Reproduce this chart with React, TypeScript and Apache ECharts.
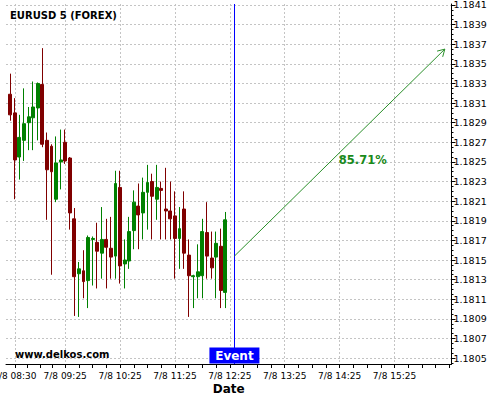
import React, { useEffect, useRef } from "react";
import * as echarts from "echarts";

// ---------- data ----------
const DATE_PREFIX = "7/8";
const times = [
  "08:25", "08:30", "08:35", "08:40", "08:45", "08:50", "08:55", "09:00", "09:05", "09:10",
  "09:15", "09:20", "09:25", "09:30", "09:35", "09:40", "09:45", "09:50", "09:55", "10:00",
  "10:05", "10:10", "10:15", "10:20", "10:25", "10:30", "10:35", "10:40", "10:45", "10:50",
  "10:55", "11:00", "11:05", "11:10", "11:15", "11:20", "11:25", "11:30", "11:35", "11:40",
  "11:45", "11:50", "11:55", "12:00", "12:05", "12:10", "12:15", "12:20",
];
const opens = [
  1.18319, 1.18300, 1.18255, 1.18272, 1.18290, 1.18295, 1.18305, 1.18329, 1.18272, 1.18266,
  1.18212, 1.18250, 1.18270, 1.18254, 1.18192, 1.18136, 1.18139, 1.18129, 1.18171, 1.18168,
  1.18157, 1.18171, 1.18162, 1.18154, 1.18224, 1.18146, 1.18149, 1.18180, 1.18205, 1.18198,
  1.18219, 1.18230, 1.18212, 1.18223, 1.18202, 1.18200, 1.18195, 1.18172, 1.18202, 1.18155,
  1.18133, 1.18133, 1.18134, 1.18178, 1.18152, 1.18153, 1.18164, 1.18117,
];
const closes = [
  1.18298, 1.18252, 1.18275, 1.18289, 1.18296, 1.18306, 1.18330, 1.18268, 1.18242, 1.18240,
  1.18249, 1.18252, 1.18251, 1.18198, 1.18133, 1.18141, 1.18128, 1.18173, 1.18172, 1.18159,
  1.18171, 1.18163, 1.18153, 1.18228, 1.18144, 1.18150, 1.18179, 1.18209, 1.18196, 1.18219,
  1.18229, 1.18215, 1.18224, 1.18221, 1.18200, 1.18192, 1.18172, 1.18182, 1.18157, 1.18134,
  1.18134, 1.18138, 1.18179, 1.18154, 1.18142, 1.18167, 1.18119, 1.18191,
];
const lows = [
  1.18292, 1.18212, 1.18232, 1.18251, 1.18262, 1.18262, 1.18272, 1.18265, 1.18191, 1.18135,
  1.18209, 1.18222, 1.18248, 1.18181, 1.18093, 1.18092, 1.18111, 1.18101, 1.18124, 1.18121,
  1.18131, 1.18121, 1.18131, 1.18131, 1.18126, 1.18121, 1.18141, 1.18161, 1.18161, 1.18171,
  1.18181, 1.18171, 1.18191, 1.18171, 1.18171, 1.18171, 1.18131, 1.18141, 1.18141, 1.18092,
  1.18101, 1.18111, 1.18111, 1.18131, 1.18131, 1.18111, 1.18101, 1.18101,
];
const highs = [
  1.18340, 1.18315, 1.18298, 1.18325, 1.18306, 1.18332, 1.18331, 1.18366, 1.18280, 1.18268,
  1.18276, 1.18283, 1.18283, 1.18255, 1.18203, 1.18148, 1.18160, 1.18175, 1.18174, 1.18188,
  1.18204, 1.18192, 1.18194, 1.18241, 1.18241, 1.18171, 1.18194, 1.18221, 1.18228, 1.18234,
  1.18247, 1.18238, 1.18247, 1.18230, 1.18244, 1.18230, 1.18220, 1.18204, 1.18220, 1.18171,
  1.18135, 1.18166, 1.18192, 1.18209, 1.18179, 1.18179, 1.18182, 1.18199,
];
const xLabelTimes = ["08:30", "09:25", "10:25", "11:25", "12:25", "13:25", "14:25", "15:25"];
const yLabelValues = [
  1.1805, 1.1807, 1.1809, 1.1811, 1.1813, 1.1815, 1.1817, 1.1819, 1.1821,
  1.1823, 1.1825, 1.1827, 1.1829, 1.1831, 1.1833, 1.1835, 1.1837, 1.1839, 1.1841,
];
const eventTime = "12:30";
const arrowFrom: [string, number] = ["12:30", 1.18154];
const arrowTo: [string, number] = ["16:20", 1.18365];
const percentLabel = "85.71%";
const titleText = "EURUSD 5 (FOREX)";
const siteText = "www.delkos.com";
const eventText = "Event";

// ---------- helpers ----------
const FONT = "'DejaVu Sans', Verdana, sans-serif";
const START = times[0];
const toMin = (t: string) => {
  const [h, m] = t.split(":").map(Number);
  return h * 60 + m;
};
const idxOf = (t: string) => (toMin(t) - toMin(START)) / 5;
const pad = (n: number) => String(n).padStart(2, "0");
const idxToLabel = (i: number) => {
  const m = Math.round(toMin(START) + i * 5);
  return `${DATE_PREFIX} ${pad(Math.floor(m / 60))}:${pad(m % 60)}`;
};

const X_MIN = -0.94;
const X_MAX = 96.46;
const Y_MIN = 1.18044;
const Y_MAX = 1.18411;

const xMajor = xLabelTimes.map(idxOf);
const xMinor: number[] = [];
for (let k = 0; k < xMajor.length - 1; k++) {
  const a = xMajor[k];
  const b = xMajor[k + 1];
  for (let j = 0; j < 4; j++) xMinor.push(a + (j * (b - a)) / 4);
}
{
  const last = xMajor[xMajor.length - 1];
  const step = (last - xMajor[xMajor.length - 2]) / 4;
  for (let v = last; v <= X_MAX; v += step) xMinor.push(v);
}
const yMinor: number[] = [];
for (let v = Math.round(Y_MIN * 20000); v / 20000 <= Y_MAX; v++) {
  if (v / 20000 >= Y_MIN) yMinor.push(v / 20000);
}

export default function App() {
  const ref = useRef<HTMLDivElement>(null);

  useEffect(() => {
    if (!ref.current) return;
    const chart = echarts.init(ref.current, undefined, { renderer: "svg" });
    const grid = "#c4c4c4";

    const option: any = {
      animation: false,
      grid: { left: 6, right: 48.5, top: 4, bottom: 36, containLabel: false, outerBoundsMode: "none" },
      xAxis: [
        {
          type: "value",
          min: X_MIN,
          max: X_MAX,
          position: "bottom",
          name: "Date",
          nameLocation: "middle",
          nameGap: 19,
          nameMoveOverlap: false,
          nameTextStyle: { fontFamily: FONT, fontWeight: "bold", fontSize: 12, color: "#000" },
          axisLine: { show: true, onZero: false, lineStyle: { color: "#000", width: 1 } },
          axisTick: { show: false, customValues: xMajor },
          axisLabel: {
            customValues: xMajor,
            formatter: (v: number) => idxToLabel(v),
            fontFamily: FONT,
            fontSize: 9,
            color: "#000",
            margin: 7,
          },
          splitLine: { show: true, lineStyle: { color: grid, type: [2, 2], width: 1 } },
        },
        {
          type: "value",
          min: X_MIN,
          max: X_MAX,
          position: "bottom",
          axisLine: { show: false, onZero: false },
          axisTick: { show: true, customValues: xMinor, length: 4, lineStyle: { color: "#000" } },
          axisLabel: { show: false },
          splitLine: { show: false },
        },
      ],
      yAxis: [
        {
          type: "value",
          min: Y_MIN,
          max: Y_MAX,
          position: "right",
          axisLine: { show: true, onZero: false, lineStyle: { color: "#000", width: 1 } },
          axisTick: { show: true, customValues: yLabelValues, length: 4, lineStyle: { color: "#000" } },
          axisLabel: {
            customValues: yLabelValues,
            formatter: (v: number) => v.toFixed(4),
            fontFamily: FONT,
            fontSize: 9.5,
            color: "#000",
            margin: 2,
          },
          splitLine: { show: true, lineStyle: { color: grid, type: [2, 2], width: 1 } },
        },
        {
          type: "value",
          min: Y_MIN,
          max: Y_MAX,
          position: "right",
          axisLine: { show: false, onZero: false },
          axisTick: { show: true, customValues: yMinor, length: 2, lineStyle: { color: "#000" } },
          axisLabel: { show: false },
          splitLine: { show: false },
        },
      ],
      series: [
        {
          type: "candlestick",
          xAxisIndex: 0,
          yAxisIndex: 0,
          barWidth: 3.4,
          data: times.map((t, i) => [idxOf(t), opens[i], closes[i], lows[i], highs[i]]),
          itemStyle: {
            color: "#008000",
            color0: "#800000",
            borderColor: "#008000",
            borderColor0: "#800000",
            borderWidth: 1,
          },
          markLine: {
            silent: true,
            symbol: ["none", "none"],
            label: { show: false },
            lineStyle: { color: "#0000ff", width: 1, type: "solid" },
            data: [{ xAxis: idxOf(eventTime) }],
          },
        },
      ],
    };
    chart.setOption(option);

    const px = (t: string, v: number) =>
      chart.convertToPixel({ gridIndex: 0 }, [idxOf(t), v]) as number[];
    const p0 = px(arrowFrom[0], arrowFrom[1]);
    const p1 = px(arrowTo[0], arrowTo[1]);
    const ang = Math.atan2(p0[1] - p1[1], p0[0] - p1[0]);
    const L = 8;
    const a1 = [p1[0] + L * Math.cos(ang + Math.PI / 6), p1[1] + L * Math.sin(ang + Math.PI / 6)];
    const a2 = [p1[0] + L * Math.cos(ang - Math.PI / 6), p1[1] + L * Math.sin(ang - Math.PI / 6)];
    const ev = px(eventTime, Y_MIN);
    const labelPos = [p0[0] + (p1[0] - p0[0]) * 0.61, p0[1] + (p1[1] - p0[1]) * 0.465];
    const green = "#2a8f2a";

    chart.setOption({
      graphic: [
        {
          type: "text",
          z: 10,
          style: { x: 10, y: 15, text: titleText, fill: "#000", fontFamily: FONT, fontWeight: "bold", fontSize: 10, align: "left", verticalAlign: "middle" },
        },
        {
          type: "text",
          z: 10,
          style: { x: 15, y: 354, text: siteText, fill: "#000", fontFamily: FONT, fontWeight: "bold", fontSize: 10, align: "left", verticalAlign: "middle" },
        },
        {
          type: "line",
          z: 10,
          shape: { x1: p0[0], y1: p0[1], x2: p1[0], y2: p1[1] },
          style: { stroke: green, lineWidth: 1 },
        },
        {
          type: "polyline",
          z: 10,
          shape: { points: [a1, p1, a2] },
          style: { stroke: green, lineWidth: 1, fill: "none" },
        },
        {
          type: "text",
          z: 10,
          style: { x: labelPos[0], y: labelPos[1], text: percentLabel, fill: "#1a8a1a", fontFamily: FONT, fontWeight: "bold", fontSize: 11.5, align: "center", verticalAlign: "middle" },
        },
        {
          type: "rect",
          z: 10,
          shape: { x: ev[0] - 25, y: ev[1] - 16.5, width: 50, height: 16 },
          style: { fill: "#0000ff" },
        },
        {
          type: "text",
          z: 11,
          style: { x: ev[0], y: ev[1] - 8.5, text: eventText, fill: "#fff", fontFamily: FONT, fontWeight: "bold", fontSize: 12, align: "center", verticalAlign: "middle" },
        },
      ],
    });

    return () => chart.dispose();
  }, []);

  return (
    <div
      ref={ref}
      style={{ position: "fixed", left: 0, top: 0, width: 500, height: 400, background: "#fff" }}
    />
  );
}
